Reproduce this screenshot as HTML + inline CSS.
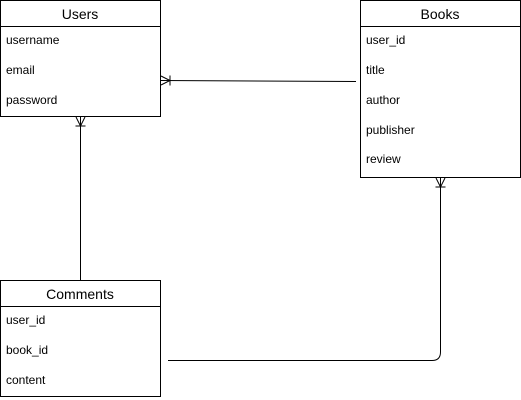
<!DOCTYPE html>
<html><head><style>body{margin:0;background:#fff}svg{display:block}</style></head><body>
<svg width="521" height="400" xmlns="http://www.w3.org/2000/svg" font-family="Liberation Sans, sans-serif">
<g fill="#fff" stroke="#000" stroke-width="1">
<rect x="0.5" y="0.5" width="160" height="116"/>
<line x1="0.5" y1="26.5" x2="160.5" y2="26.5"/>
<rect x="360.5" y="0.5" width="160" height="177"/>
<line x1="360.5" y1="26.5" x2="520.5" y2="26.5"/>
<rect x="0.5" y="280.5" width="160" height="116"/>
<line x1="0.5" y1="306.5" x2="160.5" y2="306.5"/>
</g>
<g fill="none" stroke="#000" stroke-width="1">
<path d="M356 81.5 L161 80.5"/>
<path d="M161 76 L170 80.5 L161 85 M170 75.5 L170 85.5"/>
<path d="M80.5 280 L80.5 117"/>
<path d="M76 117 L80.5 126 L85 117 M75.5 126 L85.5 126"/>
<path d="M168 360.5 L432 360.5 Q440.5 360.5 440.5 352 L440.5 178"/>
<path d="M436 178 L440.5 187 L445 178 M435.5 187 L445.5 187"/>
</g>
<g font-size="14" text-anchor="middle">
<text x="80" y="19">Users</text>
<text x="440" y="19">Books</text>
<text x="80" y="299">Comments</text>
</g>
<g font-size="12">
<text x="6" y="44">username</text>
<text x="6" y="74">email</text>
<text x="6" y="104">password</text>
<text x="366" y="44">user_id</text>
<text x="366" y="74">title</text>
<text x="366" y="104">author</text>
<text x="366" y="134">publisher</text>
<text x="366" y="163">review</text>
<text x="6" y="324">user_id</text>
<text x="6" y="354">book_id</text>
<text x="6" y="384">content</text>
</g>
</svg>
</body></html>
